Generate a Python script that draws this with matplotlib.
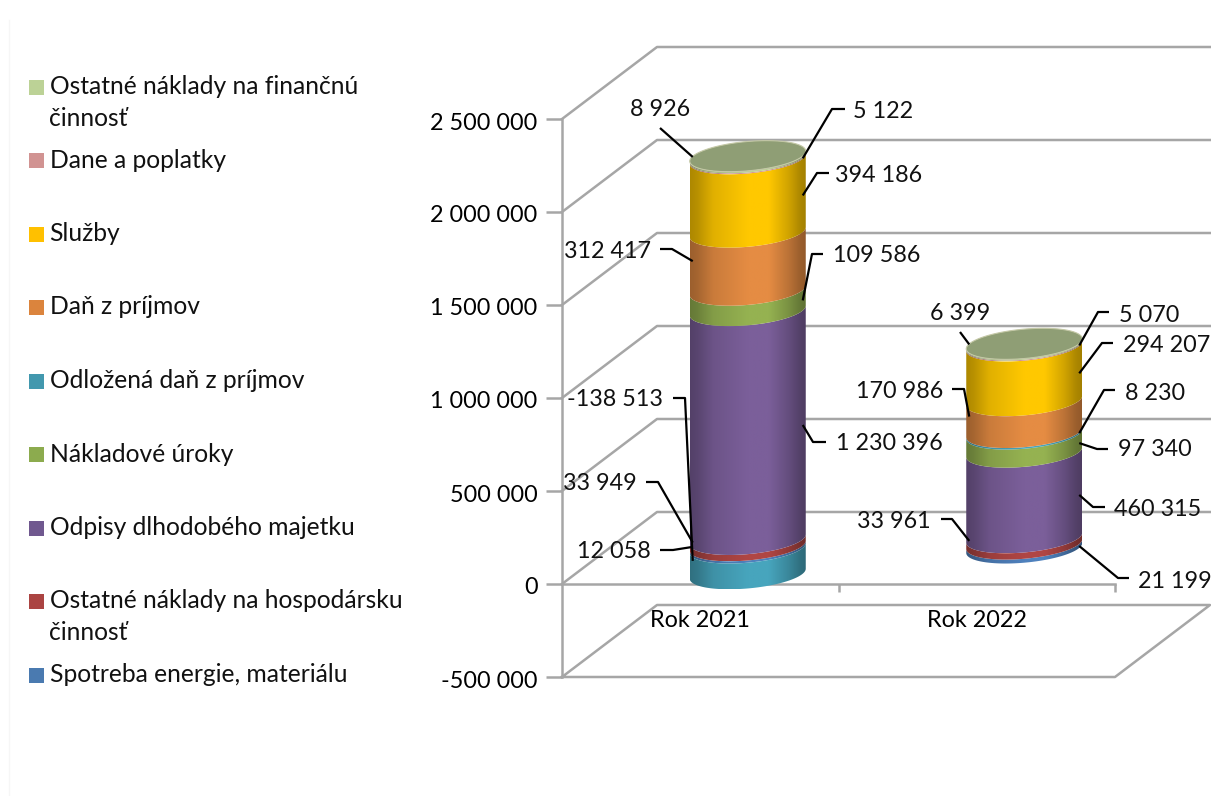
import numpy as np
import matplotlib
matplotlib.use('Agg')
import matplotlib.pyplot as plt
from matplotlib.patches import Polygon, Rectangle
from matplotlib.transforms import ScaledTranslation

plt.rcParams['font.family'] = ['Lato', 'DejaVu Sans']
FS = 16.8
FS_LEG = 17.7

# data
categories = ['Rok 2021', 'Rok 2022']
spotreba = [12058, 21199]
ostatne_hosp = [33949, 33961]
odpisy = [1230396, 460315]
uroky = [109586, 97340]
odlozena = [-138513, 8230]
dan = [312417, 170986]
sluzby = [394186, 294207]
dane = [5122, 5070]
ostatne_fin = [8926, 6399]

series = [spotreba, ostatne_hosp, odpisy, uroky, odlozena, dan, sluzby, dane, ostatne_fin]
colors = ['#4f81bd', '#b04644', '#7b5f9a', '#95b251', '#47a5bd', '#e58c43', '#ffc800', '#d19392', '#bcd296']
legend_colors = ['#4a7ab0', '#ab4442', '#70588f', '#8cab4e', '#4298ae', '#db843d', '#ffc000', '#d19392', '#bcd296']
legend_labels = ['Spotreba energie, materiálu', 'Ostatné náklady na hospodársku\nčinnosť',
                 'Odpisy dlhodobého majetku', 'Nákladové úroky', 'Odložená daň z príjmov',
                 'Daň z príjmov', 'Služby', 'Dane a poplatky', 'Ostatné náklady na finančnú\nčinnosť']
yticks = [-500000, 0, 500000, 1000000, 1500000, 2000000, 2500000]

W, H = 1211, 796
GREY = '#a6a6a6'
LW = 1.8

fig = plt.figure(figsize=(W / 100, H / 100), dpi=100)
ax = fig.add_axes([562 / W, (H - 677) / H, 553 / W, 558 / H])
ax.set_xlim(0, 2)
ax.set_ylim(-500000, 2500000)

# one px in data units
PX_X = 2 / 553
PX_Y = 3000000 / 558
DEPTH_X = 95 * PX_X
DEPTH_Y = 72 * PX_Y
A = 58 * PX_X     # half width of cylinder
B = 14.7 * PX_Y   # half height of ellipse
S = 5 * PX_Y      # tilt of ellipse


def fmt(v):
    return f'{v:,.0f}'.replace(',', ' ')


def center(i, v):
    return i + 0.5 + DEPTH_X / 2, v + DEPTH_Y / 2


def ellipse(i, v, t):
    cx, cy = center(i, v)
    return cx + A * np.cos(t), cy + S * np.cos(t) + B * np.sin(t)


def shade(col):
    t = np.linspace(0, 1, 200)
    f = np.interp(t, [0, .06, .2, .5, .68, .85, .95, 1], [.68, .72, .88, 1, 1, .82, .68, .64])
    rgb = np.array(matplotlib.colors.to_rgb(col))
    return (f[:, None] * rgb)[None, :, :]


def segment(i, v0, v1, col):
    t = np.linspace(np.pi, 2 * np.pi, 80)
    x0, y0 = ellipse(i, v0, t)
    x1, y1 = ellipse(i, v1, t)
    pts = np.r_[np.c_[x0, y0], np.c_[x1, y1][::-1]]
    cx = center(i, 0)[0]
    ylo, yhi = pts[:, 1].min(), pts[:, 1].max()
    im = ax.imshow(shade(col), extent=[cx - A, cx + A, ylo, yhi], aspect='auto', zorder=4, interpolation='bilinear')
    im.set_clip_path(Polygon(pts, transform=ax.transData))


# walls and floor
for v in yticks[1:]:
    ax.plot([0, DEPTH_X, 2 + DEPTH_X], [v, v + DEPTH_Y, v + DEPTH_Y], color=GREY, lw=LW, clip_on=False, zorder=1)
ax.plot([0, DEPTH_X, 2 + DEPTH_X, 2, 0], [-500000, -500000 + DEPTH_Y, -500000 + DEPTH_Y, -500000, -500000],
        color=GREY, lw=LW, clip_on=False, zorder=1)

# axes
for s in ['top', 'right']:
    ax.spines[s].set_visible(False)
ax.spines['left'].set_color(GREY)
ax.spines['left'].set_linewidth(LW)
ax.spines['bottom'].set_color(GREY)
ax.spines['bottom'].set_linewidth(LW)
ax.spines['bottom'].set_position(('data', 0))
ax.set_yticks(yticks, [fmt(v) for v in yticks], fontsize=FS)
ax.tick_params(axis='y', length=11.5, width=LW, color=GREY, pad=6)
for lab in ax.get_yticklabels():
    lab.set_transform(lab.get_transform() + ScaledTranslation(0, -2 / 100, fig.dpi_scale_trans))
ax.set_xticks([1, 2], ['', ''])
ax.tick_params(axis='x', which='major', length=6, width=LW, color=GREY)
ax.set_xticks([0.5, 1.5], categories, minor=True, fontsize=FS)
ax.tick_params(axis='x', which='minor', length=0, pad=18.5)
ax.patch.set_alpha(0)

# cylinders
for i in range(2):
    pos = 0
    for vals, col in zip(series, colors):
        v = vals[i]
        if v < 0:
            segment(i, v, 0, col)
        else:
            segment(i, pos, pos + v, col)
            pos += v
    t = np.linspace(0, 2 * np.pi, 160)
    x, y = ellipse(i, pos, t)
    ax.fill(x, y, facecolor='#8f9e75', edgecolor='#c4c8a6', lw=0.8, zorder=5)
ax.set_xlim(0, 2)
ax.set_ylim(-500000, 2500000)

# overlay in pixel coordinates for legend and data labels
pix = fig.add_axes([0, 0, 1, 1], zorder=10)
pix.set_xlim(0, W)
pix.set_ylim(H, 0)
pix.axis('off')
pix.plot([8.5, 8.5], [20, H], color='#f6f6f6', lw=1)

# legend, top entry first
for n in range(9):
    yc = 87 + n * 73.5
    idx = 8 - n
    pix.add_patch(Rectangle((29, yc - 7.5), 15, 15, facecolor=legend_colors[idx], edgecolor='none'))
    pix.text(49.5, yc - 12, legend_labels[idx], fontsize=FS_LEG, va='top', ha='left', linespacing=1.45, color='#111111')

# series, category, side, text x, text y, ha, elbow and start of the leader
leaders = [
    (8, 0, -1, 660, 110, 'center', [(660, 128)]),
    (7, 0, 1, 853, 112, 'left', [(832, 109), (845, 109)]),
    (6, 0, 1, 835, 175, 'left', [(817, 173), (829, 173)]),
    (5, 0, -1, 651, 251, 'right', [(672, 249), (660, 249)]),
    (3, 0, 1, 833, 255, 'left', [(812, 254), (823, 254)]),
    (4, 0, -1, 663, 400, 'right', [(685, 398), (673, 398)]),
    (2, 0, 1, 836, 444, 'left', [(813, 442), (826, 442)]),
    (1, 0, -1, 637, 484, 'right', [(658, 482), (646, 482)]),
    (0, 0, -1, 651, 552, 'right', [(673, 550), (660, 550)]),
    (8, 1, -1, 960, 314, 'center', [(960, 332)]),
    (7, 1, 1, 1119, 315, 'left', [(1098, 312), (1109, 312)]),
    (6, 1, 1, 1123, 345, 'left', [(1102, 343), (1113, 343)]),
    (5, 1, -1, 943, 391, 'right', [(964, 389), (952, 389)]),
    (4, 1, 1, 1125, 393, 'left', [(1104, 390), (1115, 390)]),
    (3, 1, 1, 1118, 450, 'left', [(1097, 449), (1108, 449)]),
    (2, 1, 1, 1114, 509, 'left', [(1093, 507), (1105, 507)]),
    (1, 1, -1, 931, 521, 'right', [(952, 519), (941, 519)]),
    (0, 1, 1, 1138, 582, 'left', [(1118, 578), (1129, 578)]),
]

for sn, i, side, tx, ty, ha, path in leaders:
    val = series[sn][i]
    if val < 0:
        mid = val / 2
    else:
        below = sum(s[i] for s in series[:sn] if s[i] > 0)
        mid = below + val / 2
    cx, cy = center(i, mid)
    a = ax.transData.transform((cx + side * (A - 3 * PX_X), cy))
    a = pix.transData.inverted().transform(a)
    pts = [tuple(a)] + path
    pix.plot([p[0] for p in pts], [p[1] for p in pts], color='black', lw=1.6, solid_capstyle='butt')
    pix.text(tx, ty, fmt(val), fontsize=FS, ha=ha, va='center', color='#111111')

fig.savefig('out.png', dpi=100)
